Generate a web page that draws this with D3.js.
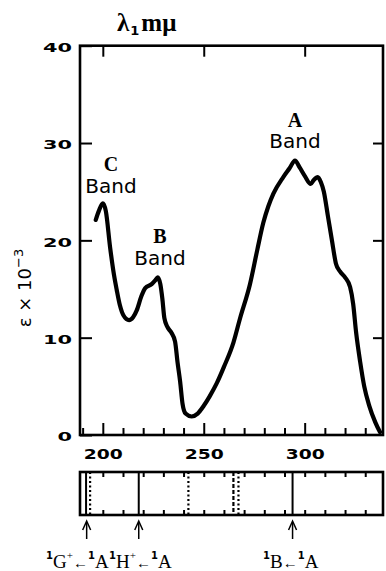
<!DOCTYPE html>
<html><head><meta charset="utf-8">
<script src="https://cdn.jsdelivr.net/npm/d3@7"></script>
<style>
html,body{margin:0;padding:0;background:#fff;}
svg{display:block;}
</style></head>
<body>
<svg id="c" width="386" height="571"></svg>
<script>
// ---- data ----
const wavelength = [196.5,198,200,201.5,203.6,205.5,206.9,208.5,210.2,213,215,216.8,219,221,224.2,226,227.2,228.5,229.5,230.5,232,234,235.8,237,238.3,239.5,241,244,247,250,253,256.4,260,264.7,268,272.9,276.5,279.5,282,284.5,289.4,292.5,295.2,297.5,300.1,303,304.5,306.5,308,309.5,311.5,313.5,315.5,317.5,320,322.5,324,325.5,327.5,329.5,332,335,337.3];
const epsilon = [22.1,23.0,23.8,23.0,19.3,16.5,14.9,13.3,12.3,11.8,12.1,12.8,14.2,15.1,15.5,15.9,16.2,15.5,14.0,12.0,11.1,10.5,9.6,7.5,5.5,3.2,2.2,1.9,2.2,3.0,4.0,5.3,7.0,9.5,12.0,15.5,19.0,21.8,23.5,24.8,26.5,27.4,28.2,27.5,26.6,25.8,26.2,26.5,26.0,25.0,22.5,20.0,17.6,16.8,16.2,15.2,13.5,10.5,7.5,5.0,3.0,1.3,0.3];
const xMajorTicks = [200,250,300];
const xMinorTicks = [190,200,210,220,230,240,250,260,270,280,290,300,310,320,330];
const yTicks = [0,10,20,30,40];
const yRightTicks = [10,20,30];
const bandNames = ["A","B","C"];
const transitionLines = [191.7,193.7,217.8,242.4,264.7,267.2,294.0];
const transitionStyles = ["solid","dotted","solid","dotted","dashed","dotted","solid"];
const arrowWavelengths = [192,217.8,294.0];
const transitionLetters = ["G","H","B"];
const transitionPlus = [true,true,false];

// ---- layout ----
const svg = d3.select("#c");
const L = 80, R = 383, T = 45.7, B = 435;
const bT = 472, bB = 515;
const x = d3.scaleLinear().domain([188.7, 338.8]).range([L, R]);
const y = d3.scaleLinear().domain([0, 40]).range([B, T]);

const tickFont = "'DejaVu Sans', sans-serif";
const serif = "'Liberation Serif', serif";

function styleAxis(g){
  g.select(".domain").remove();
  g.selectAll(".tick line").attr("stroke","#000").attr("stroke-width",2);
}

// left axis
const gl = svg.append("g").attr("transform",`translate(${L},0)`)
  .call(d3.axisLeft(y).tickValues(yTicks).tickSize(-12).tickPadding(8).tickFormat(d3.format("d")));
styleAxis(gl);
gl.selectAll(".tick text").attr("font-family",tickFont).attr("font-weight","bold")
  .attr("font-size",13).attr("fill","#000").attr("dy","0.45em")
  .attr("textLength", d => String(d).length*14.5).attr("lengthAdjust","spacingAndGlyphs");

// right axis
const gr = svg.append("g").attr("transform",`translate(${R},0)`)
  .call(d3.axisRight(y).tickValues(yRightTicks).tickSize(-10).tickFormat(""));
styleAxis(gr);

// top axis
const gt = svg.append("g").attr("transform",`translate(0,${T})`)
  .call(d3.axisTop(x).tickValues(xMajorTicks).tickSize(-11).tickFormat(""));
styleAxis(gt);

// bottom minor ticks
const gbm = svg.append("g").attr("transform",`translate(0,${B})`)
  .call(d3.axisBottom(x).tickValues(xMinorTicks.filter(v=>xMajorTicks.indexOf(v)<0)).tickSize(-7).tickFormat(""));
styleAxis(gbm);
// bottom major ticks with labels
const gb = svg.append("g").attr("transform",`translate(0,${B})`)
  .call(d3.axisBottom(x).tickValues(xMajorTicks).tickSize(-12).tickPadding(14).tickFormat(d3.format("d")));
styleAxis(gb);
gb.selectAll(".tick text").attr("font-family",tickFont).attr("font-weight","bold")
  .attr("font-size",14).attr("fill","#000")
  .attr("textLength", 39).attr("lengthAdjust","spacingAndGlyphs");

// frame
svg.append("rect").attr("x",L).attr("y",T).attr("width",R-L).attr("height",B-T)
  .attr("fill","none").attr("stroke","#000").attr("stroke-width",2.6);

// curve
const pts = wavelength.map((w,i)=>[w,epsilon[i]]);
const line = d3.line().x(d=>x(d[0])).y(d=>y(d[1])).curve(d3.curveMonotoneX);
svg.append("path").attr("d",line(pts)).attr("fill","none").attr("stroke","#000")
  .attr("stroke-width",4.2).attr("stroke-linejoin","round").attr("stroke-linecap","round");

// band labels
const bandLetterY = [127, 243, 171];
const bandWordY = [148, 265, 193];
const bandLabelX = [295, 160, 111];
bandNames.forEach((n,i)=>{
  svg.append("text").attr("x",bandLabelX[i]).attr("y",bandLetterY[i]).attr("text-anchor","middle")
    .attr("font-family",serif).attr("font-weight","bold").attr("font-size",20).text(n);
  svg.append("text").attr("x",bandLabelX[i]).attr("y",bandWordY[i]).attr("text-anchor","middle")
    .attr("font-family",tickFont).attr("font-size",20).text("Band");
});

// title λ1 mμ
const tt = svg.append("text").attr("x",117).attr("y",31).attr("font-family",serif)
  .attr("font-size",25).attr("font-weight","bold");
tt.append("tspan").text("λ");
tt.append("tspan").attr("font-size",13).attr("font-family",tickFont).attr("dy",4).attr("dx",1).text("1");
tt.append("tspan").attr("dy",-4).attr("dx",2).text("mμ");

// y title
const yt = svg.append("text").attr("transform","translate(31,288) rotate(-90)").attr("text-anchor","middle")
  .attr("font-family",tickFont).attr("font-size",18);
yt.append("tspan").text("ε × 10");
yt.append("tspan").attr("font-size",13).attr("dy",-8).text("−3");

// ---- bottom transition box ----
const gbt = svg.append("g").attr("transform",`translate(0,${bT})`)
  .call(d3.axisTop(x).tickValues(xMinorTicks.filter(v=>v>190)).tickSize(-5).tickFormat(""));
styleAxis(gbt);
const gbb = svg.append("g").attr("transform",`translate(0,${bB})`)
  .call(d3.axisBottom(x).tickValues(xMinorTicks.filter(v=>v>190)).tickSize(-5).tickFormat(""));
styleAxis(gbb);
const dashFor = {solid:null, dotted:"2,2.5", dashed:"4,2"};
transitionLines.forEach((w,i)=>{
  svg.append("line").attr("x1",x(w)).attr("x2",x(w)).attr("y1",bT).attr("y2",bB)
    .attr("stroke","#000").attr("stroke-width",transitionStyles[i]==="solid"?2:2.2)
    .attr("stroke-dasharray",dashFor[transitionStyles[i]]);
});
svg.append("rect").attr("x",L).attr("y",bT).attr("width",R-L).attr("height",bB-bT)
  .attr("fill","none").attr("stroke","#000").attr("stroke-width",2.6);

// arrows
arrowWavelengths.forEach(w=>{
  const ax = x(w);
  svg.append("line").attr("x1",ax).attr("x2",ax).attr("y1",539).attr("y2",523)
    .attr("stroke","#000").attr("stroke-width",1.5);
  svg.append("path").attr("d",`M${ax-4},${530} L${ax},${521} L${ax+4},${530}`)
    .attr("fill","none").attr("stroke","#000").attr("stroke-width",1.5);
});

// transition labels
const labelX = [46,109,263];
transitionLetters.forEach((letter,i)=>{
  const plus = transitionPlus[i];
  const t = svg.append("text").attr("x",labelX[i]).attr("y",568).attr("font-family",serif)
    .attr("font-size",19);
  t.append("tspan").attr("font-family",tickFont).attr("font-weight","bold").attr("font-size",10).attr("dy",-9).text("1");
  t.append("tspan").attr("dy",9).text(letter);
  if(plus){
    t.append("tspan").attr("font-size",11).attr("dy",-9).text("+");
    t.append("tspan").attr("font-size",15).attr("dy",9).text("←");
  } else {
    t.append("tspan").attr("font-size",15).text("←");
  }
  t.append("tspan").attr("font-family",tickFont).attr("font-weight","bold").attr("font-size",10).attr("dy",-9).text("1");
  t.append("tspan").attr("dy",9).text("A");
});
</script>
</body></html>
